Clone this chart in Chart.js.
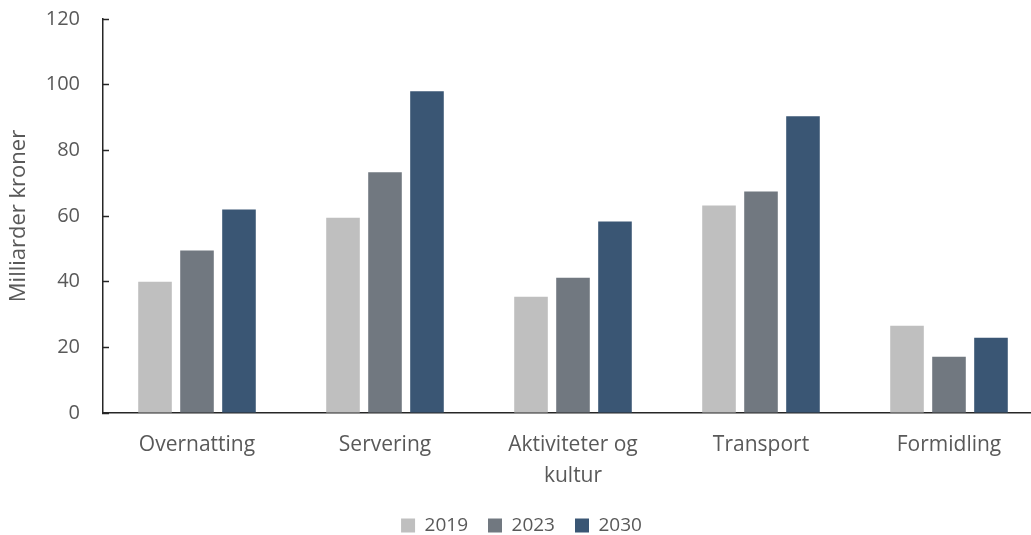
<!DOCTYPE html>
<html>
<head>
<meta charset="utf-8">
<script src="https://cdn.jsdelivr.net/npm/chart.js@4"></script>
<style>
  html, body { margin: 0; padding: 0; background: #fff; overflow: hidden; }
  /* the plot runs past the right edge in the original, so the canvas is a bit wider than the window */
  #wrap { width: 1043px; height: 535px; }
</style>
</head>
<body>
<div id="wrap"><canvas id="chart"></canvas></div>
<script>
const categories = [ 'Overnatting', 'Servering', [ 'Aktiviteter og', 'kultur' ], 'Transport', 'Formidling' ];
const years = [ '2019', '2023', '2030' ];
const values2019 = [ 40, 59.5, 35.4, 63.2, 26.6 ];
const values2023 = [ 49.5, 73.3, 41.2, 67.5, 17.1 ];
const values2030 = [ 62, 98, 58.3, 90.4, 22.9 ];
const yTicks = [ 0, 20, 40, 60, 80, 100, 120 ];

const colors = [ '#BFBFBF', '#717880', '#3A5674' ];
const textColor = '#595959';
const fontFamily = '"Open Sans", Lato, sans-serif';

const ctx = document.getElementById( 'chart' ).getContext( '2d' );

new Chart( ctx, {
  type: 'bar',
  data: {
    labels: categories,
    datasets: [ values2019, values2023, values2030 ].map( ( data, i ) => ( {
      label: years[ i ],
      data: data,
      backgroundColor: colors[ i ],
      borderWidth: 0,
      barPercentage: 0.8,
      categoryPercentage: 0.67,
    } ) )
  },
  options: {
    responsive: true,
    maintainAspectRatio: false,
    animation: false,
    layout: {
      padding: { top: 0, right: 0, bottom: -10, left: 0 }
    },
    plugins: {
      tooltip: { enabled: false },
      legend: {
        position: 'bottom',
        labels: {
          boxWidth: 14,
          boxHeight: 14,
          padding: 20,
          color: textColor,
          font: { family: fontFamily, size: 19 }
        }
      }
    },
    scales: {
      x: {
        grid: { display: false },
        border: { display: true, color: '#262626', width: 1.5 },
        ticks: {
          color: textColor,
          padding: 9,
          font: { family: fontFamily, size: 21, lineHeight: 1.45 },
          maxRotation: 0
        },
        afterFit: ( scale ) => {
          scale.height = 83;
          scale.paddingLeft = 0;
          scale.paddingRight = 0;
        }
      },
      y: {
        min: 0,
        max: 120,
        afterBuildTicks: ( scale ) => {
          scale.ticks = yTicks.map( v => ( { value: v } ) );
        },
        grid: {
          display: true,
          drawOnChartArea: false,
          tickLength: -6,
          tickColor: '#262626',
          tickWidth: 1.5
        },
        border: { display: true, color: '#262626', width: 1.5 },
        ticks: {
          color: textColor,
          padding: 29,
          font: { family: fontFamily, size: 20 }
        },
        title: {
          display: true,
          text: 'Milliarder kroner',
          color: textColor,
          padding: { top: 6, bottom: 6 },
          font: { family: fontFamily, size: 22 }
        },
        afterFit: ( scale ) => {
          scale.width = 103;
          scale.paddingTop = 19;
          scale.paddingBottom = 0;
        }
      }
    }
  }
} );
</script>
</body>
</html>
